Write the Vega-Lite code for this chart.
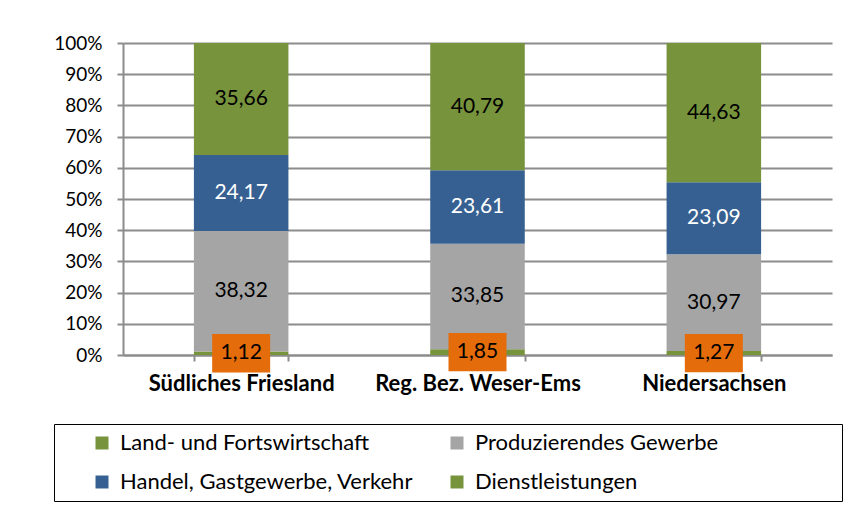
{
  "$schema": "https://vega.github.io/schema/vega-lite/v6.json",
  "width": 709,
  "height": 312,
  "autosize": {"type": "none"},
  "padding": {"left": 123, "top": 43, "right": 27, "bottom": 160},
  "background": "white",
  "config": {
    "font": "Lato",
    "view": {"stroke": null},
    "locale": {"number": {"decimal": ",", "thousands": ".", "grouping": [3], "currency": ["", " €"]}},
    "axisY": {
      "title": null,
      "format": ".0%",
      "values": [0, 0.1, 0.2, 0.3, 0.4, 0.5, 0.6, 0.7, 0.8, 0.9, 1],
      "labelOverlap": false,
      "labelFontSize": 19,
      "labelColor": "black",
      "labelPadding": 15,
      "tickColor": "#8c8c8c",
      "tickWidth": 2,
      "tickSize": 6,
      "domainColor": "#8c8c8c",
      "domainWidth": 2,
      "grid": true,
      "gridColor": "#8c8c8c",
      "gridWidth": 2
    }
  },
  "data": {
    "values": [
      {"region": "Südliches Friesland", "sector": "Land- und Fortswirtschaft", "value": 1.12, "o": 1},
      {"region": "Südliches Friesland", "sector": "Produzierendes Gewerbe", "value": 38.32, "o": 2},
      {"region": "Südliches Friesland", "sector": "Handel, Gastgewerbe, Verkehr", "value": 24.17, "o": 3},
      {"region": "Südliches Friesland", "sector": "Dienstleistungen", "value": 35.66, "o": 4},
      {"region": "Reg. Bez. Weser-Ems", "sector": "Land- und Fortswirtschaft", "value": 1.85, "o": 1},
      {"region": "Reg. Bez. Weser-Ems", "sector": "Produzierendes Gewerbe", "value": 33.85, "o": 2},
      {"region": "Reg. Bez. Weser-Ems", "sector": "Handel, Gastgewerbe, Verkehr", "value": 23.61, "o": 3},
      {"region": "Reg. Bez. Weser-Ems", "sector": "Dienstleistungen", "value": 40.79, "o": 4},
      {"region": "Niedersachsen", "sector": "Land- und Fortswirtschaft", "value": 1.27, "o": 1},
      {"region": "Niedersachsen", "sector": "Produzierendes Gewerbe", "value": 30.97, "o": 2},
      {"region": "Niedersachsen", "sector": "Handel, Gastgewerbe, Verkehr", "value": 23.09, "o": 3},
      {"region": "Niedersachsen", "sector": "Dienstleistungen", "value": 44.63, "o": 4}
    ]
  },
  "encoding": {
    "x": {
      "field": "region",
      "type": "nominal",
      "sort": null,
      "scale": {"paddingInner": 0.6, "paddingOuter": 0.3},
      "axis": {
        "title": null,
        "labelAngle": 0,
        "labelFont": "Lato",
        "labelFontWeight": "bold",
        "labelFontSize": 22,
        "labelLimit": 400,
        "labelColor": "black",
        "labelPadding": 12,
        "tickBand": "extent",
        "tickColor": "#8c8c8c",
        "tickWidth": 2,
        "tickSize": 6,
        "domainColor": "#8c8c8c",
        "domainWidth": 2
      }
    }
  },
  "layer": [
    {
      "mark": {"type": "bar"},
      "encoding": {
        "y": {
          "field": "value",
          "type": "quantitative",
          "stack": "normalize",
          "scale": {"domain": [0, 1]},
          "axis": {"values": [0, 0.1, 0.2, 0.3, 0.4, 0.5, 0.6, 0.7, 0.8, 0.9, 1], "format": ".0%", "title": null}
        },
        "color": {
          "field": "sector",
          "type": "nominal",
          "scale": {
            "domain": ["Land- und Fortswirtschaft", "Produzierendes Gewerbe", "Handel, Gastgewerbe, Verkehr", "Dienstleistungen"],
            "range": ["#77933C", "#A5A5A5", "#376092", "#77933C"]
          },
          "legend": {
            "title": "\u00a0",
            "titleOrient": "right",
            "titlePadding": 116,
            "orient": "none",
            "legendX": -69,
            "legendY": 381,
            "direction": "horizontal",
            "columns": 2,
            "columnPadding": 3,
            "rowPadding": 17,
            "padding": 8,
            "strokeColor": "black",
            "fillColor": "white",
            "symbolType": "square",
            "symbolSize": 169,
            "symbolOffset": 29,
            "symbolStrokeWidth": 0,
            "labelFontSize": 22,
            "labelColor": "black",
            "labelOffset": 7,
            "labelLimit": 0
          }
        },
        "order": {"field": "o", "type": "quantitative"}
      }
    },
    {
      "mark": {"type": "text", "fontSize": 21, "baseline": "middle", "align": "center"},
      "encoding": {
        "y": {"field": "value", "type": "quantitative", "stack": "normalize", "bandPosition": 0.5, "axis": {"values": [0, 0.1, 0.2, 0.3, 0.4, 0.5, 0.6, 0.7, 0.8, 0.9, 1], "format": ".0%", "title": null}},
        "detail": {"field": "sector"},
        "order": {"field": "o", "type": "quantitative"},
        "text": {"field": "value", "type": "quantitative", "format": ".2f"},
        "opacity": {"condition": {"test": "datum.o == 1", "value": 0}, "value": 1},
        "fill": {"condition": {"test": "datum.o == 3", "value": "white"}, "value": "black"}
      }
    },
    {
      "mark": {"type": "point", "filled": true, "shape": "M-1,-0.66L1,-0.66L1,0.66L-1,0.66Z", "size": 3364, "color": "#E46C0A", "strokeWidth": 0},
      "encoding": {
        "y": {"field": "value", "type": "quantitative", "stack": "normalize", "bandPosition": 0.5, "axis": {"values": [0, 0.1, 0.2, 0.3, 0.4, 0.5, 0.6, 0.7, 0.8, 0.9, 1], "format": ".0%", "title": null}},
        "detail": {"field": "sector"},
        "order": {"field": "o", "type": "quantitative"},
        "opacity": {"condition": {"test": "datum.o == 1", "value": 1}, "value": 0}
      }
    },
    {
      "mark": {"type": "text", "fontSize": 21, "baseline": "middle", "align": "center", "color": "black"},
      "encoding": {
        "y": {"field": "value", "type": "quantitative", "stack": "normalize", "bandPosition": 0.5, "axis": {"values": [0, 0.1, 0.2, 0.3, 0.4, 0.5, 0.6, 0.7, 0.8, 0.9, 1], "format": ".0%", "title": null}},
        "detail": {"field": "sector"},
        "order": {"field": "o", "type": "quantitative"},
        "text": {"field": "value", "type": "quantitative", "format": ".2f"},
        "opacity": {"condition": {"test": "datum.o == 1", "value": 1}, "value": 0}
      }
    }
  ]
}
